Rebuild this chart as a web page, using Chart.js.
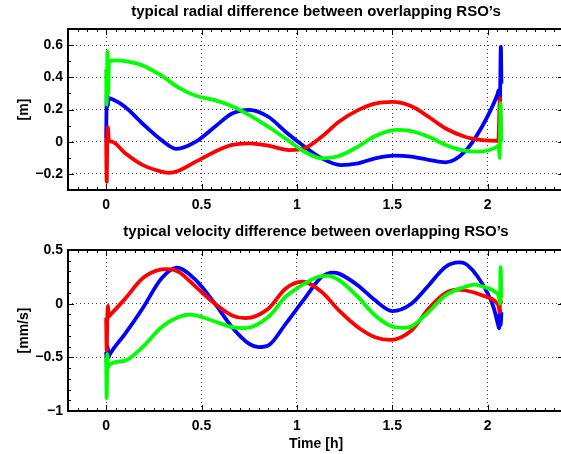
<!DOCTYPE html>
<html>
<head>
<meta charset="utf-8">
<script src="https://cdn.jsdelivr.net/npm/chart.js@4.4.1/dist/chart.umd.min.js"></script>
<style>
  html, body { margin: 0; padding: 0; background: #fff; overflow: hidden; width: 561px; height: 454px; }
  #wrap { position: relative; width: 566px; height: 454px; }
  canvas { position: absolute; left: 0; }
</style>
</head>
<body>
<div id="wrap">
  <canvas id="radial" width="566" height="220" style="top:0"></canvas>
  <canvas id="velocity" width="566" height="234" style="top:220px"></canvas>
</div>
<script>
// tick labels
const timeTicks = [0, 0.5, 1, 1.5, 2];
const radialTicks = [-0.2, 0, 0.2, 0.4, 0.6];
const velocityTicks = [-1, -0.5, 0, 0.5];

// radial difference [m]
const radBlueT = [0, 0.004, 0.008, 0.013, 0.03, 0.1, 0.19, 0.29, 0.37, 0.47, 0.57, 0.66, 0.75, 0.85, 0.94, 1.04, 1.13, 1.23, 1.32, 1.41, 1.51, 1.6, 1.69, 1.78, 1.88, 1.97, 2.05, 2.058, 2.064, 2.069, 2.072];
const radBlue  = [0.02, 0.33, 0.22, 0.27, 0.265, 0.216, 0.113, 0.01, -0.045, 0.0, 0.093, 0.175, 0.198, 0.155, 0.062, -0.031, -0.103, -0.145, -0.134, -0.103, -0.087, -0.093, -0.113, -0.128, -0.062, 0.093, 0.29, 0.32, 0.25, 0.59, 0.36];
const radRedT = [0, 0.003, 0.006, 0.009, 0.014, 0.03, 0.1, 0.19, 0.29, 0.33, 0.38, 0.47, 0.57, 0.66, 0.75, 0.85, 0.96, 1.04, 1.13, 1.22, 1.32, 1.41, 1.5, 1.6, 1.69, 1.78, 1.88, 1.97, 2.056, 2.064, 2.068];
const radRed  = [0.02, -0.25, 0.03, 0.09, 0.01, 0.0, -0.072, -0.144, -0.186, -0.194, -0.18, -0.124, -0.062, -0.02, -0.01, -0.025, -0.052, -0.041, 0.031, 0.124, 0.196, 0.237, 0.247, 0.22, 0.155, 0.082, 0.031, 0.01, 0.005, 0.27, 0.02];
const radGreenT = [0, 0.003, 0.007, 0.011, 0.015, 0.05, 0.1, 0.19, 0.29, 0.38, 0.47, 0.57, 0.66, 0.75, 0.85, 0.94, 1.04, 1.13, 1.22, 1.32, 1.41, 1.52, 1.6, 1.69, 1.78, 1.88, 1.95, 2.05, 2.058, 2.063, 2.067, 2.071];
const radGreen  = [0.45, 0.23, 0.56, 0.30, 0.50, 0.505, 0.50, 0.474, 0.41, 0.336, 0.285, 0.258, 0.22, 0.165, 0.093, 0.02, -0.062, -0.103, -0.089, -0.031, 0.035, 0.074, 0.066, 0.031, -0.02, -0.056, -0.062, -0.03, -0.02, -0.1, 0.24, 0.0];

// velocity difference [mm/s]
const velBlueT = [0, 0.004, 0.008, 0.012, 0.02, 0.1, 0.19, 0.29, 0.37, 0.47, 0.57, 0.66, 0.75, 0.8, 0.85, 0.94, 1.04, 1.13, 1.19, 1.22, 1.32, 1.41, 1.5, 1.6, 1.69, 1.78, 1.85, 1.88, 1.97, 2.03, 2.055, 2.06, 2.064, 2.068, 2.072];
const velBlue  = [-0.45, -0.56, -0.40, -0.50, -0.47, -0.28, -0.047, 0.234, 0.335, 0.219, 0.0, -0.219, -0.375, -0.405, -0.39, -0.19, 0.047, 0.25, 0.29, 0.28, 0.17, 0.031, -0.069, 0.0, 0.17, 0.344, 0.384, 0.375, 0.19, -0.03, -0.2, -0.23, -0.06, -0.2, -0.08];
const velRedT = [0, 0.003, 0.006, 0.009, 0.013, 0.024, 0.1, 0.19, 0.29, 0.32, 0.38, 0.47, 0.57, 0.66, 0.73, 0.85, 0.94, 1.03, 1.13, 1.22, 1.32, 1.41, 1.49, 1.6, 1.69, 1.78, 1.84, 1.88, 1.97, 2.05, 2.058, 2.062, 2.066, 2.07];
const velRed  = [-0.13, -0.44, -0.15, -0.02, -0.12, -0.1, 0.047, 0.234, 0.319, 0.322, 0.297, 0.156, 0.0, -0.11, -0.135, -0.047, 0.14, 0.205, 0.109, -0.0625, -0.219, -0.3125, -0.338, -0.25, -0.047, 0.1, 0.131, 0.125, 0.078, 0.0, -0.03, -0.08, 0.05, 0.0];
const velGreenT = [0, 0.003, 0.006, 0.01, 0.016, 0.1, 0.19, 0.29, 0.38, 0.44, 0.47, 0.57, 0.66, 0.73, 0.85, 0.94, 1.04, 1.13, 1.16, 1.22, 1.32, 1.41, 1.5, 1.56, 1.6, 1.69, 1.78, 1.88, 1.93, 1.97, 2.05, 2.058, 2.064, 2.068, 2.072];
const velGreen  = [-0.50, -0.88, -0.47, -0.60, -0.57, -0.53, -0.406, -0.219, -0.125, -0.103, -0.11, -0.166, -0.219, -0.228, -0.125, 0.0625, 0.1875, 0.256, 0.258, 0.219, 0.0625, -0.11, -0.2125, -0.225, -0.2125, -0.078, 0.078, 0.156, 0.178, 0.1625, 0.094, 0.07, 0.0, 0.34, 0.05];

const FONT = "'Liberation Sans', Arial, Helvetica, sans-serif";

const toPoints = (ts, ys) => ts.map((t, i) => ({ x: t, y: ys[i] }));
const fmt = (v) => {
  const r = Math.round(v * 10) / 10;
  return (r < 0 ? "\u2212" : "") + String(Math.abs(r));
};

// MATLAB-like box with inward major and minor ticks on all four sides
const boxTicks = {
  id: "boxTicks",
  afterDraw(chart, args, opts) {
    const { ctx, chartArea: a, scales } = chart;
    const xs = scales.x, ys = scales.y;
    ctx.save();
    ctx.strokeStyle = "#000";
    ctx.lineWidth = 1;
    ctx.beginPath();
    const xMark = (v, len) => {
      const p = Math.round(xs.getPixelForValue(v)) + 0.5;
      ctx.moveTo(p, a.bottom); ctx.lineTo(p, a.bottom - len);
      ctx.moveTo(p, a.top); ctx.lineTo(p, a.top + len);
    };
    const yMark = (v, len) => {
      const p = Math.round(ys.getPixelForValue(v)) + 0.5;
      ctx.moveTo(a.left, p); ctx.lineTo(a.left + len, p);
      ctx.moveTo(a.right, p); ctx.lineTo(a.right - len, p);
    };
    for (let v = Math.ceil(xs.min / opts.xMinor) * opts.xMinor; v <= xs.max + 1e-9; v += opts.xMinor) xMark(v, 3);
    for (let v = Math.ceil(ys.min / opts.yMinor) * opts.yMinor; v <= ys.max + 1e-9; v += opts.yMinor) yMark(v, 3);
    xs.ticks.forEach((t) => xMark(t.value, 6));
    ys.ticks.forEach((t) => yMark(t.value, 6));
    ctx.stroke();
    ctx.lineWidth = 2;
    ctx.strokeRect(a.left, a.top, a.right - a.left, a.bottom - a.top);
    ctx.restore();
  },
};

function series(label, color, ts, ys) {
  return {
    label,
    data: toPoints(ts, ys),
    borderColor: color,
    borderWidth: 3.8,
    pointRadius: 0,
    fill: false,
    cubicInterpolationMode: "monotone",
  };
}

function makeChart(id, cfg) {
  return new Chart(document.getElementById(id), {
    type: "line",
    data: { datasets: cfg.datasets },
    plugins: [boxTicks],
    options: {
      responsive: false,
      animation: false,
      devicePixelRatio: 1,
      layout: { padding: { left: 0, right: 2, top: 0, bottom: 0 } },
      plugins: {
        legend: { display: false },
        tooltip: { enabled: false },
        title: {
          display: true,
          fullSize: false,
          text: cfg.title,
          color: "#000",
          font: { family: FONT, size: 15, weight: "bold" },
          padding: { top: 3, bottom: cfg.titleGap },
        },
        boxTicks: { xMinor: 0.05, yMinor: 0.1 },
      },
      scales: {
        x: {
          type: "linear",
          min: -0.2,
          max: 2.4,
          afterBuildTicks: (s) => { s.ticks = timeTicks.map((v) => ({ value: v })); },
          afterFit: (s) => { s.height = cfg.xHeight; },
          grid: { color: "rgba(0,0,0,0.75)", lineWidth: 1, drawTicks: false },
          border: { display: false, dash: [1, 3] },
          ticks: {
            color: "#000",
            padding: 7,
            maxRotation: 0,
            font: { family: FONT, size: 14, weight: "bold" },
            callback: (v) => fmt(v),
          },
          title: {
            display: !!cfg.xTitle,
            text: cfg.xTitle || "",
            color: "#000",
            font: { family: FONT, size: 14, weight: "bold" },
            padding: { top: 0, bottom: 1 },
          },
        },
        y: {
          type: "linear",
          min: cfg.yMin,
          max: cfg.yMax,
          afterBuildTicks: (s) => { s.ticks = cfg.yTicks.map((v) => ({ value: v })); },
          afterFit: (s) => { s.width = 68; },
          grid: { color: "rgba(0,0,0,0.75)", lineWidth: 1, drawTicks: false },
          border: { display: false, dash: [1, 3] },
          ticks: {
            color: "#000",
            padding: 5,
            font: { family: FONT, size: 14, weight: "bold" },
            callback: (v) => fmt(v),
          },
          title: {
            display: true,
            text: cfg.yTitle,
            color: "#000",
            font: { family: FONT, size: 14, weight: "bold" },
            padding: { top: 16, bottom: 0 },
          },
        },
      },
    },
  });
}

makeChart("radial", {
  title: "typical radial difference between overlapping RSO\u2019s",
  titleGap: 8,
  xHeight: 30,
  yMin: -0.3,
  yMax: 0.7,
  yTicks: radialTicks,
  yTitle: "[m]",
  datasets: [
    series("green", "#00ff00", radGreenT, radGreen),
    series("red", "#ff0000", radRedT, radRed),
    series("blue", "#0000ff", radBlueT, radBlue),
  ],
});

makeChart("velocity", {
  title: "typical velocity difference between overlapping RSO\u2019s",
  titleGap: 9,
  xHeight: 43,
  xTitle: "Time [h]",
  yMin: -1,
  yMax: 0.5,
  yTicks: velocityTicks,
  yTitle: "[mm/s]",
  datasets: [
    series("green", "#00ff00", velGreenT, velGreen),
    series("red", "#ff0000", velRedT, velRed),
    series("blue", "#0000ff", velBlueT, velBlue),
  ],
});
</script>
</body>
</html>
